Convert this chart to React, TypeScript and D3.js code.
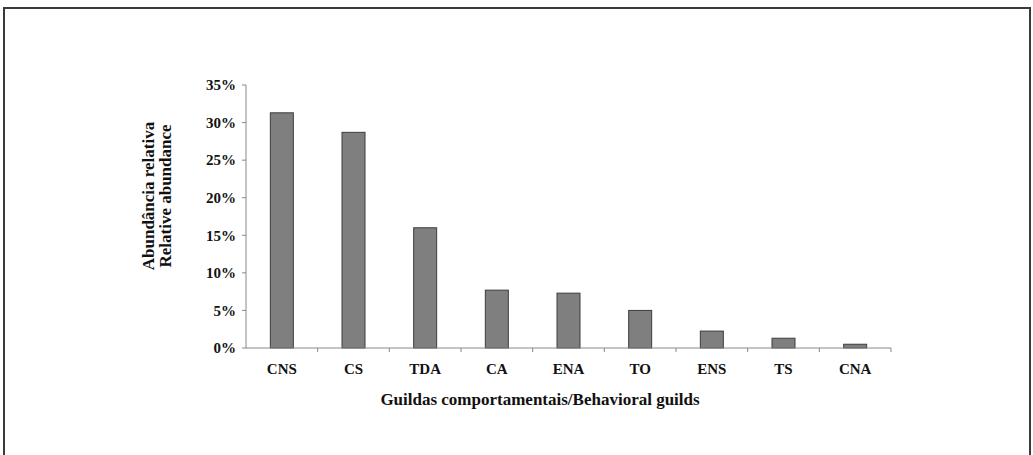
import React from "react";
import * as d3 from "d3";

const categories = ["CNS", "CS", "TDA", "CA", "ENA", "TO", "ENS", "TS", "CNA"];
const values = [31.3, 28.7, 16.0, 7.7, 7.3, 5.0, 2.25, 1.3, 0.5];
const yTicks = [0, 5, 10, 15, 20, 25, 30, 35];
const xTitle = "Guildas comportamentais/Behavioral guilds";
const yTitle1 = "Abundância relativa";
const yTitle2 = "Relative abundance";

const W = 1033;
const H = 455;
const left = 246;
const right = 891;
const top = 85;
const bottom = 348;
const FONT = "'Liberation Serif', 'Times New Roman', serif";

export default function App() {
  const x = d3.scaleBand<string>().domain(categories).range([left, right]).paddingInner(0).paddingOuter(0);
  const y = d3.scaleLinear().domain([0, 35]).range([bottom, top]);
  const bw = 23;
  const bounds = d3.range(categories.length + 1).map((i) => left + i * x.bandwidth());
  return (
    <svg width={W} height={H} style={{ position: "absolute", left: 0, top: 0 }} fontFamily={FONT}>
      <rect x={0} y={0} width={W} height={H} fill="#fff" />
      <rect x={4} y={8} width={1026} height={470} fill="none" stroke="#3a3a3a" strokeWidth={2} />
      {/* y axis */}
      <line x1={left} x2={left} y1={top} y2={bottom} stroke="#888" strokeWidth={1} />
      {yTicks.map((t) => (
        <g key={t}>
          <line x1={left - 4} x2={left} y1={y(t)} y2={y(t)} stroke="#888" />
          <text x={236} y={y(t)} dy="0.35em" textAnchor="end" fontSize={15} fontWeight="bold" fill="#111">
            {t}%
          </text>
        </g>
      ))}
      {/* bars */}
      {categories.map((c, i) => (
        <rect
          key={c}
          x={(x(c) as number) + x.bandwidth() / 2 - bw / 2}
          y={y(values[i])}
          width={bw}
          height={bottom - y(values[i])}
          fill="#7f7f7f"
          stroke="#3c3c3c"
          strokeWidth={1}
        />
      ))}
      {/* x axis */}
      <line x1={left} x2={right} y1={bottom} y2={bottom} stroke="#888" strokeWidth={1} />
      {bounds.slice(1).map((b, i) => (
        <line key={i} x1={b} x2={b} y1={bottom} y2={bottom + 4} stroke="#888" />
      ))}
      {categories.map((c) => (
        <text
          key={c}
          x={(x(c) as number) + x.bandwidth() / 2}
          y={374}
          textAnchor="middle"
          fontSize={15}
          fontWeight="bold"
          fill="#111"
        >
          {c}
        </text>
      ))}
      <text x={540} y={405} textAnchor="middle" fontSize={17} fontWeight="bold" fill="#111">
        {xTitle}
      </text>
      <text transform="translate(154,196) rotate(-90)" textAnchor="middle" fontSize={17} fontWeight="bold" fill="#111">
        {yTitle1}
      </text>
      <text transform="translate(171,196) rotate(-90)" textAnchor="middle" fontSize={17} fontWeight="bold" fill="#111">
        {yTitle2}
      </text>
    </svg>
  );
}
